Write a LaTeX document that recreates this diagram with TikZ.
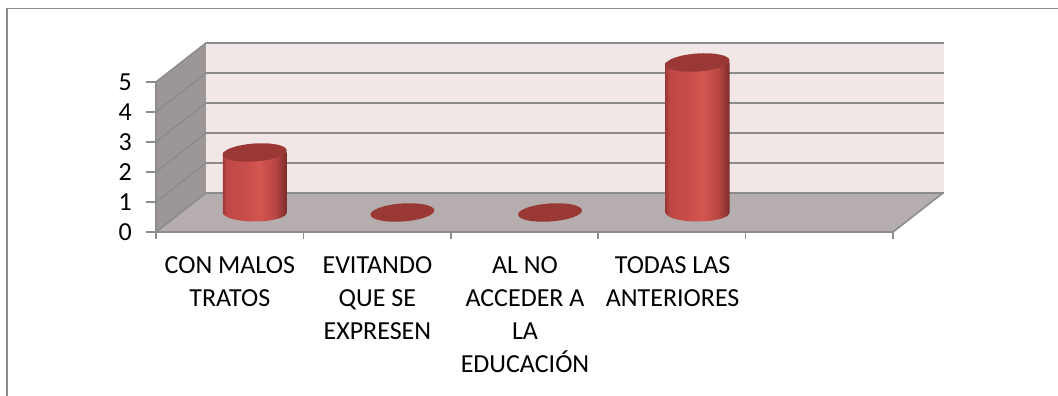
\documentclass[tikz,border=0pt]{standalone}
\usepackage{fontspec}
\setmainfont{Carlito}
\usetikzlibrary{calc}
\definecolor{gridgray}{HTML}{8C8C8C}
\definecolor{backwall}{HTML}{F2E7E7}
\definecolor{floorgray}{HTML}{B6AEAE}
\definecolor{leftwall}{HTML}{9D9696}
\definecolor{bartopred}{HTML}{9A3836}
\definecolor{cylA}{HTML}{9E3936}
\definecolor{cylB}{HTML}{BE4845}
\definecolor{cylC}{HTML}{C84D4A}
\definecolor{cylD}{HTML}{D4564F}
\definecolor{cylE}{HTML}{B84643}
\definecolor{cylF}{HTML}{7C2C2A}
\pgfdeclarehorizontalshading{cylshade}{100bp}{color(0bp)=(cylA); color(25bp)=(cylA);
  color(28bp)=(cylB); color(42bp)=(cylC); color(54bp)=(cylD); color(66bp)=(cylE);
  color(75bp)=(cylF); color(100bp)=(cylF)}

\begin{document}
\begin{tikzpicture}[x=1pt,y=1pt]
    % `grid' is used for all gray lines and ticks.
    % `barbody' and `bartop' draw the cylinders.
    \tikzstyle{grid} = [draw=gridgray,line width=1.6pt]
    \tikzstyle{ticklabel} = [anchor=east,inner sep=0pt,font=\fontsize{26}{33}\selectfont]
    \tikzstyle{catlabel} = [anchor=north,align=center,inner sep=0pt,font=\fontsize{26}{33}\selectfont]
    \tikzstyle{barbody} = [shading=cylshade]
    \tikzstyle{bartop} = [fill=bartopred]
    %
    \useasboundingbox (0,0) rectangle (1058,396);
    % Outer frame.
    \draw[gridgray,line width=1.5pt] (7,0) -- (7,387.5) -- (1058,387.5);
    % Walls and floor.
    \fill[leftwall] (156,164) -- (206,203) -- (206,353) -- (156,314) -- cycle;
    \fill[backwall] (206,203) rectangle (944,353);
    \fill[floorgray] (156,164) -- (893,164) -- (943,203) -- (206,203) -- cycle;
    % Grid lines.
    \foreach \k in {0,...,5}
      \draw[grid] (156,164+30*\k) -- (206,203+30*\k) -- (944,203+30*\k);
    \draw[grid] (893,164) -- (943,203);
    \draw[grid] (156,314) -- (156,164) -- (893,164);
    \foreach \k in {0,...,5} {
      \draw[grid] (146,164+30*\k) -- (156,164+30*\k);
      \draw[grid] (156+147.4*\k,164) -- (156+147.4*\k,157);
      \node[ticklabel] (y\k) at (132,164+30*\k) {\k};
    }
    % Draw cylinders.
    \foreach \i/\v in {1/2,2/0,3/0,4/5} {
      \pgfmathsetmacro\cx{156+147.6*(\i-0.5)+25}
      \pgfmathsetmacro\ct{183.5+30*\v}
      \ifnum\v>0
        \shade[barbody] (\cx-32,\ct) -- (\cx-32,183.5)
          arc[start angle=180,end angle=360,x radius=32pt,y radius=9pt]
          -- (\cx+32,\ct) -- cycle;
      \fi
      \fill[bartop,rotate around={4:(\cx,\ct)}] (\cx,\ct) ellipse[x radius=32pt,y radius=9pt];
    }
    % Category labels.
    \node[catlabel] (c1) at (229.8,140) {CON MALOS\\TRATOS};
    \node[catlabel] (c2) at (377.4,140) {EVITANDO\\QUE SE\\EXPRESEN};
    \node[catlabel] (c3) at (525,140) {AL NO\\ACCEDER A\\LA\\EDUCACIÓN};
    \node[catlabel] (c4) at (672.6,140) {TODAS LAS\\ANTERIORES};
\end{tikzpicture}
\end{document}
